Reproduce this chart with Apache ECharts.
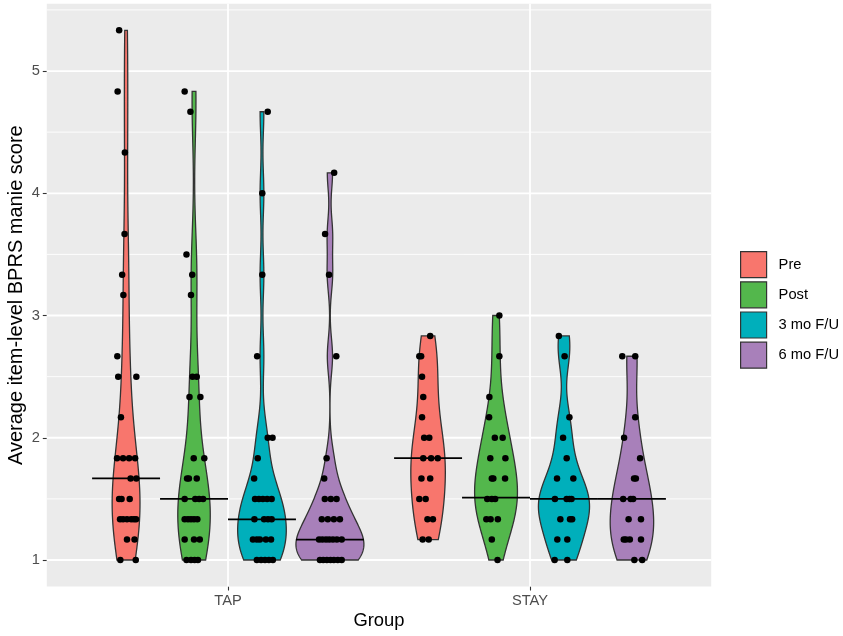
<!DOCTYPE html>
<html><head><meta charset="utf-8">
<script src="https://cdn.jsdelivr.net/npm/echarts@6/dist/echarts.min.js"></script>
<style>html,body{margin:0;padding:0;background:#fff}#c{width:843px;height:636px}</style>
</head><body><div id="c"></div>
<script>
// ---------- data ----------
const groups = ['TAP', 'STAY'];
const periods = ['Pre', 'Post', '3 mo F/U', '6 mo F/U'];
const yTicks = [1, 2, 3, 4, 5];
const yMinor = [1.5, 2.5, 3.5, 4.5, 5.5];
// each point: [score, horizontal jitter in category units]
const tapPre = [[5.333,-0.023],[4.833,-0.028],[4.333,-0.004],[3.667,-0.005],[3.333,-0.013],[3.167,-0.009],[2.667,-0.029],[2.5,-0.026],[2.5,0.034],[2.167,-0.017],[1.833,-0.030],[1.833,-0.010],[1.833,0.010],[1.833,0.030],[1.667,0.015],[1.667,0.034],[1.5,-0.023],[1.5,-0.015],[1.5,0.012],[1.333,-0.020],[1.333,-0.010],[1.333,0.003],[1.333,0.017],[1.333,0.026],[1.333,0.033],[1.167,0.003],[1.167,0.028],[1,-0.019],[1,0.032]];
const tapPost = [[4.833,-0.031],[4.667,-0.012],[3.5,-0.025],[3.333,-0.006],[3.167,-0.010],[2.5,-0.005],[2.5,0.009],[2.333,-0.015],[2.333,0.021],[1.833,-0.001],[1.833,0.034],[1.667,-0.023],[1.667,-0.017],[1.667,0.009],[1.5,-0.031],[1.5,0.004],[1.5,0.017],[1.5,0.030],[1.333,-0.031],[1.333,-0.020],[1.333,-0.010],[1.333,0.000],[1.333,0.011],[1.167,-0.031],[1.167,0.000],[1.167,0.019],[1,-0.025],[1,-0.010],[1,0.002],[1,0.013]];
const tap3mo = [[4.667,0.019],[4,0.001],[3.333,0.001],[2.667,-0.016],[2,0.019],[2,0.035],[1.833,-0.014],[1.667,-0.026],[1.5,-0.023],[1.5,-0.010],[1.5,0.003],[1.5,0.017],[1.5,0.032],[1.333,-0.025],[1.333,0.007],[1.333,0.020],[1.333,0.032],[1.167,-0.030],[1.167,-0.017],[1.167,-0.007],[1.167,0.013],[1.167,0.030],[1,-0.017],[1,-0.003],[1,0.010],[1,0.023],[1,0.036]];
const tap6mo = [[4.167,0.014],[3.667,-0.016],[3.333,-0.003],[2.667,0.021],[1.833,-0.011],[1.667,-0.019],[1.5,-0.017],[1.5,0.003],[1.5,0.022],[1.333,-0.027],[1.333,-0.007],[1.333,0.013],[1.333,0.033],[1.167,-0.036],[1.167,-0.025],[1.167,-0.013],[1.167,-0.002],[1.167,0.010],[1.167,0.023],[1.167,0.039],[1,-0.033],[1,-0.022],[1,-0.010],[1,0.002],[1,0.013],[1,0.026],[1,0.039]];
const stayPre = [[2.833,0.007],[2.667,-0.029],[2.667,-0.023],[2.5,-0.020],[2.333,-0.016],[2.167,-0.020],[2,-0.013],[2,0.004],[1.833,-0.016],[1.833,0.010],[1.833,0.032],[1.667,-0.022],[1.667,0.007],[1.5,-0.029],[1.5,-0.008],[1.333,-0.002],[1.333,0.016],[1.167,-0.018],[1.167,0.002]];
const stayPost = [[3,0.011],[2.667,0.011],[2.333,-0.022],[2.167,-0.023],[2,-0.004],[2,0.022],[1.833,-0.019],[1.833,0.031],[1.667,-0.014],[1.667,-0.009],[1.667,0.030],[1.5,-0.029],[1.5,-0.014],[1.5,-0.003],[1.333,-0.032],[1.333,-0.018],[1.333,0.006],[1.167,-0.014],[1,0.005]];
const stay3mo = [[2.833,-0.017],[2.667,0.002],[2.167,0.018],[2,-0.003],[1.833,0.009],[1.667,-0.023],[1.667,0.031],[1.5,-0.030],[1.5,0.009],[1.5,0.018],[1.5,0.025],[1.333,-0.012],[1.333,0.020],[1.333,0.027],[1.167,-0.022],[1.167,0.011],[1,-0.031],[1,0.011]];
const stay6mo = [[2.667,-0.032],[2.667,0.011],[2.167,0.011],[2,-0.026],[1.833,0.027],[1.667,0.007],[1.667,0.013],[1.5,-0.029],[1.5,-0.004],[1.5,0.004],[1.333,-0.011],[1.333,0.030],[1.167,-0.027],[1.167,-0.020],[1.167,-0.007],[1.167,0.030],[1,0.008],[1,0.034]];
// medians as drawn (crossbar per violin), period order
const tapMedians = [1.667, 1.5, 1.333, 1.167];
const stayMedians = [1.833, 1.51, 1.5, 1.5];

// ---------- styles ----------
const colors = ['#F8766D', '#53B74C', '#00AFBB', '#A880BA'];
const FONT = 'Liberation Sans, Arial, Helvetica, sans-serif';
const dodge = 0.9 / 4;
const offsets = [-1.5, -0.5, 0.5, 1.5].map(k => k * dodge);
const halfW = dodge / 2;

const pts = [[tapPre, stayPre], [tapPost, stayPost], [tap3mo, stay3mo], [tap6mo, stay6mo]];
const meds = [tapMedians, stayMedians];

// ---------- violin densities (gaussian KDE, bw.nrd0, trimmed) ----------
function quantile(s, p) { const h = (s.length - 1) * p, lo = Math.floor(h); const hi = Math.min(lo + 1, s.length - 1); return s[lo] + (h - lo) * (s[hi] - s[lo]); }
function bwNrd0(x) {
  const n = x.length, mean = x.reduce((a, b) => a + b, 0) / n;
  const sd = Math.sqrt(x.reduce((a, b) => a + (b - mean) ** 2, 0) / (n - 1));
  const s = [...x].sort((a, b) => a - b);
  let lo = Math.min(sd, (quantile(s, .75) - quantile(s, .25)) / 1.34);
  if (!(lo > 0)) lo = sd || Math.abs(s[0]) || 1;
  return 0.9 * lo * Math.pow(n, -0.2);
}
function kde(vals) {
  const bw = bwNrd0(vals), mn = Math.min(...vals), mx = Math.max(...vals), N = 512, out = [];
  for (let i = 0; i < N; i++) {
    const y = mn + (mx - mn) * i / (N - 1); let d = 0;
    for (const v of vals) { const z = (y - v) / bw; d += Math.exp(-0.5 * z * z); }
    out.push([y, d / (vals.length * bw * Math.sqrt(2 * Math.PI))]);
  }
  return out;
}
const dens = pts.map(pp => pp.map(g => kde(g.map(d => d[0]))));
let gMax = 0; dens.forEach(a => a.forEach(d => d.forEach(r => { if (r[1] > gMax) gMax = r[1]; })));

const series = [];
// gridlines
series.push({
  type: 'custom', z: 1, silent: true,
  data: yTicks.map(v => [1, v, 2]).concat(yMinor.map(v => [1, v, 1])).concat(groups.map((g, i) => [i + 1, 3, 3])),
  renderItem: (params, api) => {
    const kind = api.value(2);
    if (kind === 3) {
      const x = api.value(0);
      const a = api.coord([x, 0.7833]), b = api.coord([x, 5.55]);
      return { type: 'line', shape: { x1: a[0], y1: a[1], x2: b[0], y2: b[1] }, style: { stroke: '#fff', lineWidth: 1.8 } };
    }
    const v = api.value(1);
    const a = api.coord([0.4, v]), b = api.coord([2.6, v]);
    return { type: 'line', shape: { x1: a[0], y1: a[1], x2: b[0], y2: b[1] }, style: { stroke: '#fff', lineWidth: kind === 2 ? 1.8 : 0.9 } };
  }
});
// violins
periods.forEach((p, pi) => {
  series.push({
    type: 'custom', name: p, z: 2,
    itemStyle: { color: colors[pi], borderColor: '#333', borderWidth: 1.2 },
    data: groups.map((g, gi) => [gi + 1 + offsets[pi], meds[gi][pi]]),
    renderItem: (params, api) => {
      const gi = params.dataIndex, xc = gi + 1 + offsets[pi], d = dens[pi][gi], poly = [];
      for (const r of d) poly.push(api.coord([xc - r[1] / gMax * halfW, r[0]]));
      for (let i = d.length - 1; i >= 0; i--) poly.push(api.coord([xc + d[i][1] / gMax * halfW, d[i][0]]));
      return { type: 'polygon', shape: { points: poly }, style: { fill: colors[pi], stroke: '#333', lineWidth: 1.3 } };
    }
  });
});
// jittered points
const scatterData = [];
pts.forEach((pp, pi) => pp.forEach((g, gi) => g.forEach(d => scatterData.push([gi + 1 + offsets[pi] + d[1], d[0]]))));
series.push({ type: 'scatter', z: 3, silent: true, symbolSize: 6.5, itemStyle: { color: '#000', opacity: 1 }, data: scatterData });
// median bars
const medData = [];
meds.forEach((m, gi) => m.forEach((v, pi) => medData.push([gi + 1 + offsets[pi], v])));
series.push({
  type: 'custom', z: 4, silent: true, data: medData,
  renderItem: (params, api) => {
    const a = api.coord([api.value(0) - halfW, api.value(1)]), b = api.coord([api.value(0) + halfW, api.value(1)]);
    return { type: 'line', shape: { x1: a[0], y1: a[1], x2: b[0], y2: b[1] }, style: { stroke: '#000', lineWidth: 1.7 } };
  }
});

const chart = echarts.init(document.getElementById('c'), null, { renderer: 'canvas' });
chart.setOption({
  animation: false,
  textStyle: { fontFamily: FONT },
  grid: { left: 46.8, right: 131.8, top: 3.8, bottom: 49.5, show: true, backgroundColor: '#EBEBEB', borderWidth: 0, containLabel: false, outerBoundsMode: 'none' },
  xAxis: {
    type: 'value', min: 0.4, max: 2.6,
    axisLine: { show: false }, splitLine: { show: false },
    axisTick: { show: true, customValues: [1, 2], length: 4, lineStyle: { color: '#333', width: 1.1 } },
    axisLabel: { customValues: [1, 2], formatter: v => groups[Math.round(v) - 1] || '', color: '#4D4D4D', fontSize: 14.7, fontFamily: FONT, margin: 7 },
    name: 'Group', nameLocation: 'middle', nameGap: 25, nameMoveOverlap: false,
    nameTextStyle: { color: '#000', fontSize: 18.4, fontFamily: FONT }
  },
  yAxis: {
    type: 'value', min: 0.7833, max: 5.55,
    axisLine: { show: false }, splitLine: { show: false },
    axisTick: { show: true, customValues: yTicks, length: 4, lineStyle: { color: '#333', width: 1.1 } },
    axisLabel: { customValues: yTicks, color: '#4D4D4D', fontSize: 14.7, fontFamily: FONT, margin: 7 },
    name: 'Average item-level BPRS manie score', nameLocation: 'middle', nameGap: 20, nameRotate: 90, nameMoveOverlap: false,
    nameTextStyle: { color: '#000', fontSize: 20, fontFamily: FONT }
  },
  legend: {
    data: periods, orient: 'vertical', left: 740, top: 251, padding: 0,
    itemWidth: 26, itemHeight: 26, itemGap: 3, icon: 'rect',
    itemStyle: { borderColor: '#333', borderWidth: 1.2 },
    textStyle: { color: '#000', fontSize: 14.7, fontFamily: FONT, padding: [0, 0, 0, 7] },
    selectedMode: false
  },
  series: series
});
</script>
</body></html>
